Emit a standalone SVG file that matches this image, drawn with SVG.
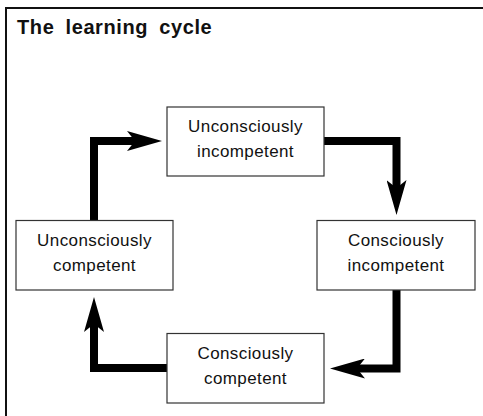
<svg xmlns="http://www.w3.org/2000/svg" width="483" height="416" viewBox="0 0 483 416">
<defs>
<style>
.box{fill:#fff;stroke:#333;stroke-width:1.2}
.lbl{font-family:"Liberation Sans",Arial,sans-serif;font-size:17px;letter-spacing:0.4px;fill:#111;text-anchor:middle}
.title{font-family:"Liberation Sans",Arial,sans-serif;font-size:20px;font-weight:bold;letter-spacing:0.6px;word-spacing:5px;fill:#111}
.conn{fill:none;stroke:#000;stroke-width:8;stroke-linejoin:miter;stroke-linecap:butt}
</style>
<marker id="ah" viewBox="0 -10 35 20" markerWidth="35" markerHeight="20" markerUnits="userSpaceOnUse" refX="8" refY="0" orient="auto">
<path d="M0,-10 L35,0 L0,10 L8,0 Z" fill="#000"/>
</marker>
</defs>
<rect x="0" y="0" width="483" height="416" fill="#fff"/>
<path d="M6,416 V8 H483" fill="none" stroke="#111" stroke-width="2"/>
<text class="title" x="17" y="34">The learning cycle</text>
<g id="connectors">
<path class="conn" d="M324,141 H396.5 V188" marker-end="url(#ah)"/>
<path class="conn" d="M396.5,290 V368.5 H357" marker-end="url(#ah)"/>
<path class="conn" d="M167,368 H94 V324" marker-end="url(#ah)"/>
<path class="conn" d="M94,220 V141 H135" marker-end="url(#ah)"/>
</g>
<g id="n1">
<rect class="box" x="167" y="107" width="157" height="69"/>
<text class="lbl" x="245.5" y="132">Unconsciously</text>
<text class="lbl" x="245.5" y="157">incompetent</text>
</g>
<g id="n2">
<rect class="box" x="317" y="220.5" width="158" height="69.5"/>
<text class="lbl" x="396" y="245.5">Consciously</text>
<text class="lbl" x="396" y="270.5">incompetent</text>
</g>
<g id="n3">
<rect class="box" x="167" y="333.5" width="157" height="69.5"/>
<text class="lbl" x="245.5" y="358.5">Consciously</text>
<text class="lbl" x="245.5" y="383.5">competent</text>
</g>
<g id="n4">
<rect class="box" x="16" y="220.5" width="157" height="69.5"/>
<text class="lbl" x="94.5" y="245.5">Unconsciously</text>
<text class="lbl" x="94.5" y="270.5">competent</text>
</g>
</svg>
